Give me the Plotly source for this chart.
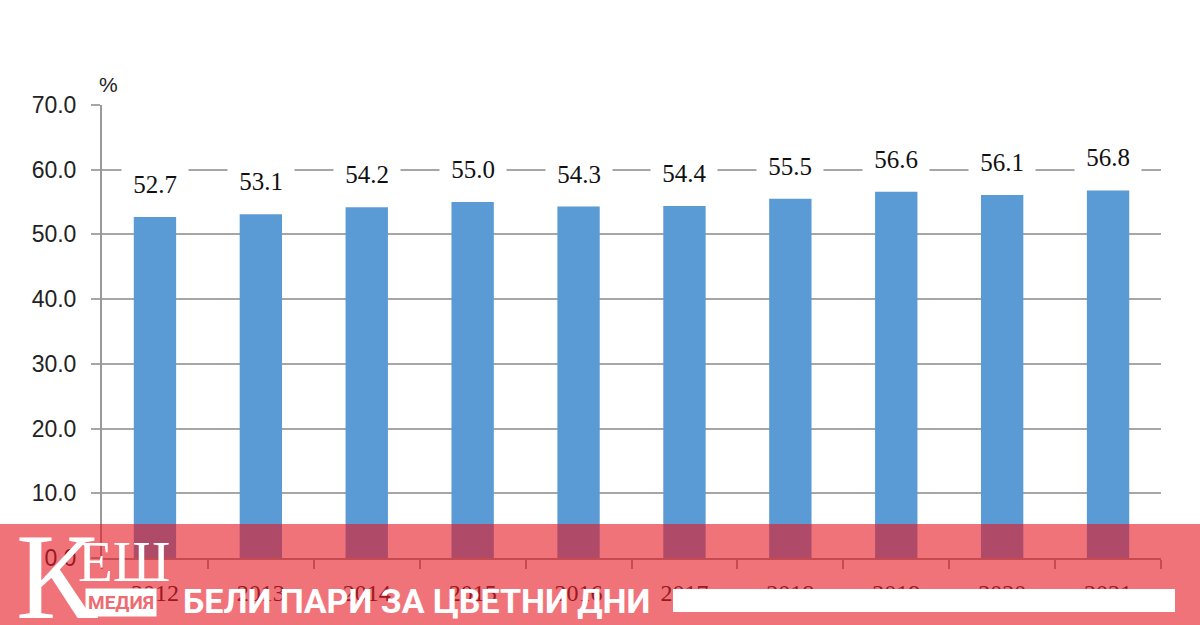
import plotly.graph_objects as go

years = ["2012", "2013", "2014", "2015", "2016", "2017", "2018", "2019", "2020", "2021"]
values = [52.7, 53.1, 54.2, 55.0, 54.3, 54.4, 55.5, 56.6, 56.1, 56.8]
y_ticks = [0, 10, 20, 30, 40, 50, 60, 70]
banner_text = "БЕЛИ ПАРИ ЗА ЦВЕТНИ ДНИ"

W, H = 1200, 625
L, R, T, B = 102, 39, 105, 67
pw = W - L - R
ph = H - T - B


def px(x):
    return (x - L) / pw


def py(y):
    return (H - B - y) / ph


fig = go.Figure()
fig.add_trace(go.Bar(
    x=years, y=values, marker=dict(color="#5b9bd5", line=dict(width=0)),
    width=0.4, hoverinfo="skip",
))

annotations = []
for i, v in enumerate(values):
    annotations.append(dict(
        x=i, y=v, xref="x", yref="y", text=f"&nbsp;{v:.1f}&nbsp;", showarrow=False,
        yanchor="bottom", yshift=13, bgcolor="white", borderpad=5,
        font=dict(family="Liberation Serif", size=25, color="#111"),
    ))

annotations.append(dict(x=px(97), y=py(71), xref="paper", yref="paper", text="%", showarrow=False,
                        font=dict(family="Liberation Sans", size=21, color="#222")))

# Logo and banner text
annotations.append(dict(x=px(14), y=py(576), xref="paper", yref="paper", text="К", showarrow=False,
                        xanchor="left", yanchor="middle",
                        font=dict(family="Liberation Serif", size=122, color="white")))
annotations.append(dict(x=px(76), y=py(561), xref="paper", yref="paper", text="ЕШ", showarrow=False,
                        xanchor="left", yanchor="middle",
                        font=dict(family="Liberation Serif", size=57, color="white")))
annotations.append(dict(x=px(85), y=py(602), xref="paper", yref="paper", text="<b>МЕДИЯ</b>",
                        showarrow=False, xanchor="left", yanchor="middle", bgcolor="white", borderpad=2,
                        font=dict(family="Roboto", size=19, color="#ee6b72")))
annotations.append(dict(x=px(181), y=py(601), xref="paper", yref="paper", text="<b>" + banner_text + "</b>",
                        showarrow=False, xanchor="left", yanchor="middle",
                        font=dict(family="Roboto", size=34, color="white")))

shapes = [
    dict(type="rect", xref="paper", yref="paper", x0=px(0), x1=px(W), y0=py(H), y1=py(524),
         layer="above", line=dict(width=0), fillcolor="rgba(232,22,33,0.6)"),
    dict(type="rect", xref="paper", yref="paper", x0=px(673), x1=px(1175), y0=py(612), y1=py(589),
         layer="above", line=dict(width=0), fillcolor="white"),
]

fig.update_layout(
    width=W, height=H,
    margin=dict(l=L, r=R, t=T, b=B),
    paper_bgcolor="white", plot_bgcolor="white",
    showlegend=False,
    annotations=annotations,
    shapes=shapes,
    xaxis=dict(
        type="category", range=[-0.5, 9.5], showgrid=False,
        showline=True, linecolor="#999", linewidth=2,
        ticks="outside", tickson="boundaries", ticklen=9, tickcolor="#999", tickwidth=2,
        ticklabelstandoff=12,
        tickfont=dict(family="Liberation Serif", size=24, color="#222"),
        fixedrange=True,
    ),
    yaxis=dict(
        range=[0, 70], tickvals=y_ticks, tickformat=".1f",
        showgrid=True, gridcolor="#a6a6a6", gridwidth=2,
        showline=True, linecolor="#999", linewidth=2,
        ticks="outside", ticklen=9, tickcolor="#a6a6a6", tickwidth=2,
        ticklabelstandoff=10,
        tickfont=dict(family="Liberation Sans", size=23, color="#222"),
        zeroline=False, fixedrange=True,
    ),
)

fig.write_html("out.html", config={"displayModeBar": False},
               post_script="document.body.style.margin='0';document.body.style.overflow='hidden';")
